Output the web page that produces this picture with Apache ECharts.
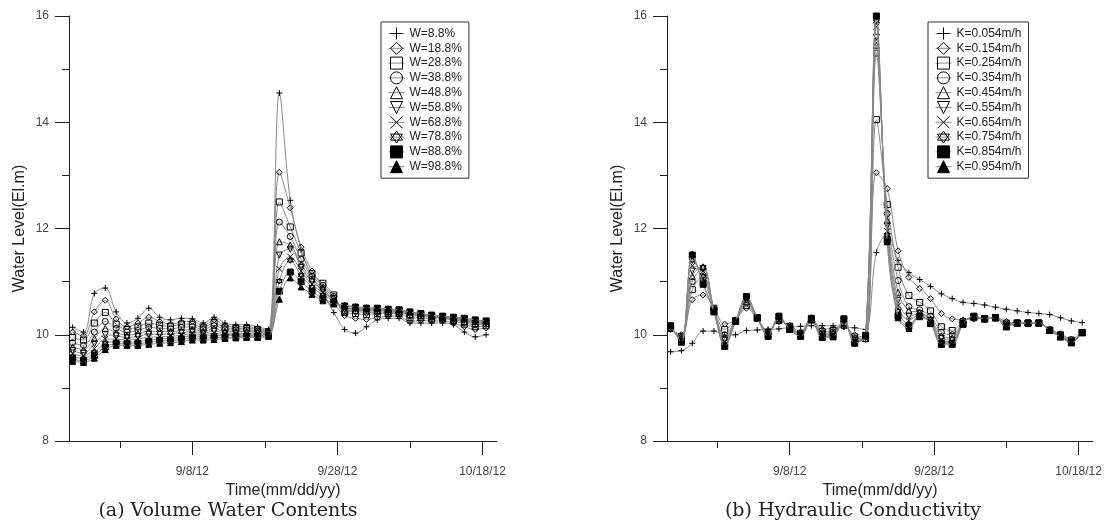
<!DOCTYPE html>
<html><head><meta charset="utf-8">
<script src="https://cdn.jsdelivr.net/npm/echarts@6/dist/echarts.min.js"></script>
<style>html,body{margin:0;padding:0;background:#fff}#c{width:1107px;height:527px}</style>
</head><body><div id="c"></div>
<script>
// x = days after 2012-08-29
const days = [-6.5,-5,-3.5,-2,-0.5,1,2.5,4,5.5,7,8.5,10,11.5,13,14.5,16,17.5,19,20.5,22,23.5,25,26.5,28,29.5,31,32.5,34,35.5,37,38.5,40,41.5,43,44.5,46,47.5,49,50.5];
const tickDaysAll = [0,10,20,30,40,50];
const tickDaysMajor = [10,30,50];
const tickLabels = ['9/8/12','9/28/12','10/18/12'];

const wNames = ['W=8.8%','W=18.8%','W=28.8%','W=38.8%','W=48.8%','W=58.8%','W=68.8%','W=78.8%','W=88.8%','W=98.8%'];
const kNames = ['K=0.054m/h','K=0.154m/h','K=0.254m/h','K=0.354m/h','K=0.454m/h','K=0.554m/h','K=0.654m/h','K=0.754m/h','K=0.854m/h','K=0.954m/h'];

// (a) Volume Water Contents
const w1 = [10.14,10.05,10.78,10.88,10.43,10.22,10.31,10.5,10.33,10.28,10.31,10.3,10.22,10.33,10.22,10.19,10.19,10.15,10.1, 14.55,12.53,11.6,11.1,10.78,10.42,10.1, 10.03,10.15,10.28,10.31,10.31,10.22,10.22,10.22,10.22,10.19,10.05,9.96,10.0];
const w2 = [10.05,9.98,10.43,10.65,10.3,10.15,10.22,10.33,10.25,10.2,10.24,10.25,10.17,10.28,10.17,10.15,10.15,10.12,10.08, 13.06,12.39,11.65,11.2,10.9,10.6,10.36, 10.31,10.29,10.32,10.35,10.35,10.25,10.27,10.26,10.26,10.22,10.15,10.1,10.13];
const w3 = [9.95,9.9,10.22,10.42,10.2,10.1,10.15,10.22,10.18,10.16,10.2,10.2,10.13,10.23,10.13,10.12,10.12,10.1,10.06, 12.5,12.03,11.54,11.15,10.97,10.75,10.42, 10.4,10.38,10.4,10.4,10.4,10.32,10.32,10.3,10.3,10.27,10.2,10.15,10.17];
const w4 = [9.85,9.8,10.05,10.25,10.12,10.05,10.08,10.14,10.12,10.11,10.14,10.15,10.1,10.17,10.1,10.09,10.09,10.07,10.05, 12.12,11.85,11.42,11.1,10.93,10.72,10.44, 10.44,10.42,10.43,10.42,10.42,10.36,10.35,10.33,10.32,10.29,10.23,10.19,10.2];
const w5 = [9.77,9.72,9.93,10.12,10.04,9.99,10.02,10.07,10.06,10.06,10.08,10.1,10.06,10.12,10.06,10.06,10.06,10.05,10.03, 11.75,11.69,11.33,11.05,10.88,10.7,10.46, 10.46,10.45,10.45,10.44,10.43,10.38,10.36,10.35,10.33,10.3,10.25,10.21,10.21];
const w6 = [9.7,9.65,9.83,10.0,9.98,9.95,9.97,10.01,10.01,10.02,10.04,10.06,10.03,10.07,10.03,10.03,10.03,10.03,10.02, 11.5,11.61,11.27,11.0,10.84,10.68,10.48, 10.48,10.46,10.46,10.45,10.44,10.4,10.37,10.35,10.34,10.31,10.27,10.23,10.22];
const w7 = [9.64,9.6,9.74,9.92,9.92,9.9,9.92,9.95,9.96,9.97,9.99,10.02,10.0,10.03,10.0,10.01,10.01,10.01,10.0, 11.24,11.47,11.2,10.95,10.8,10.66,10.5, 10.49,10.47,10.47,10.46,10.45,10.41,10.38,10.36,10.34,10.32,10.28,10.24,10.23];
const w8 = [9.59,9.55,9.67,9.84,9.87,9.86,9.87,9.9,9.92,9.93,9.95,9.98,9.97,9.99,9.98,9.99,9.99,9.99,9.99, 11.01,11.4,11.12,10.9,10.75,10.64,10.52, 10.5,10.48,10.48,10.47,10.46,10.42,10.39,10.36,10.35,10.32,10.29,10.26,10.24];
const w9 = [9.54,9.51,9.61,9.77,9.83,9.83,9.83,9.86,9.88,9.89,9.91,9.94,9.93,9.95,9.95,9.96,9.97,9.97,9.98, 10.82,11.18,11.0,10.82,10.68,10.6,10.54, 10.52,10.5,10.5,10.48,10.47,10.43,10.4,10.37,10.35,10.33,10.31,10.28,10.26];
const w10 = [9.5,9.48,9.56,9.72,9.8,9.8,9.8,9.82,9.84,9.85,9.87,9.9,9.9,9.91,9.93,9.94,9.95,9.95,9.97, 10.67,11.07,10.9,10.76,10.64,10.58,10.56, 10.53,10.51,10.5,10.49,10.47,10.43,10.4,10.37,10.35,10.33,10.31,10.28,10.26];

// (b) Hydraulic Conductivity
const k1 = [9.68,9.7,9.84,10.07,10.07,9.99,10.0,10.08,10.09,10.1,10.11,10.14,10.16,10.17,10.17,10.17,10.15,10.13,10.1, 11.55,11.9,11.4,11.17,11.04,10.91,10.77,10.68,10.61,10.59,10.56,10.52,10.48,10.45,10.42,10.4,10.38,10.32,10.26,10.23];
const k2 = [10.1,10.0,10.66,10.75,10.5,10.2,10.28,10.5,10.3,10.08,10.25,10.18,10.05,10.32,10.1,10.12,10.15,10.0,9.95, 13.05,12.75,11.58,11.08,10.87,10.68,10.4,10.3,10.28,10.3,10.3,10.32,10.25,10.22,10.22,10.22,10.1,10.02,9.92,10.05];
const k3 = [10.12,9.97,10.85,11.1,10.5,10.1,10.27,10.55,10.31,10.05,10.27,10.16,10.03,10.31,10.06,10.08,10.18,9.96,9.93, 14.05,12.45,11.27,10.74,10.61,10.45,10.15,10.08,10.25,10.32,10.3,10.32,10.22,10.22,10.22,10.22,10.09,10.0,9.9,10.04];
const k4 = [10.13,9.95,11.0,11.25,10.48,10.0,10.27,10.6,10.31,10.03,10.29,10.14,10.02,10.3,10.03,10.05,10.2,9.93,9.92, 15.3,12.28,11.02,10.53,10.47,10.35,10.05,10.0,10.23,10.33,10.3,10.32,10.2,10.22,10.22,10.22,10.09,9.99,9.88,10.04];
const k5 = [10.14,9.93,11.1,11.28,10.47,9.95,10.26,10.63,10.32,10.02,10.3,10.13,10.01,10.3,10.01,10.03,10.23,9.91,9.93, 15.45,12.15,10.8,10.46,10.42,10.3,9.98,9.94,10.22,10.34,10.3,10.32,10.18,10.22,10.22,10.22,10.08,9.98,9.87,10.04];
const k6 = [10.15,9.92,11.2,11.25,10.46,9.9,10.26,10.66,10.32,10.01,10.31,10.12,10.0,10.29,10.0,10.01,10.25,9.89,9.95, 15.6,12.05,10.65,10.35,10.4,10.27,9.93,9.9,10.21,10.34,10.3,10.32,10.17,10.22,10.22,10.22,10.08,9.97,9.86,10.04];
const k7 = [10.16,9.9,11.3,11.2,10.45,9.86,10.25,10.68,10.32,10.0,10.32,10.11,9.99,10.29,9.98,9.99,10.27,9.87,9.96, 15.8,11.95,10.55,10.27,10.38,10.25,9.89,9.87,10.21,10.35,10.3,10.32,10.16,10.22,10.22,10.22,10.08,9.97,9.86,10.04];
const k8 = [10.16,9.89,11.4,11.1,10.45,9.82,10.25,10.7,10.32,9.99,10.33,10.1,9.98,10.28,9.97,9.98,10.28,9.86,9.97, 15.9,11.88,10.45,10.2,10.36,10.23,9.86,9.85,10.2,10.35,10.3,10.32,10.16,10.22,10.22,10.22,10.08,9.96,9.85,10.04];
const k9 = [10.17,9.87,11.5,10.97,10.44,9.79,10.25,10.72,10.32,9.98,10.35,10.1,9.98,10.28,9.96,9.97,10.3,9.85,9.99, 16.0,11.78,10.35,10.16,10.35,10.22,9.83,9.83,10.2,10.35,10.3,10.32,10.15,10.22,10.22,10.22,10.08,9.96,9.85,10.04];
const k10 = [10.17,9.86,11.52,10.95,10.43,9.78,10.25,10.73,10.32,9.97,10.35,10.1,9.97,10.28,9.95,9.96,10.3,9.84,9.99, 16.0,11.75,10.32,10.12,10.34,10.21,9.82,9.82,10.2,10.35,10.3,10.32,10.15,10.22,10.22,10.22,10.08,9.96,9.85,10.04];

const wData = [w1,w2,w3,w4,w5,w6,w7,w8,w9,w10];
const kData = [k1,k2,k3,k4,k5,k6,k7,k8,k9,k10];

const SYM = [
  {symbol:'path://M0,-10L0,10M-10,0L10,0', fill:'transparent'},
  {symbol:'diamond', fill:'transparent'},
  {symbol:'rect', fill:'transparent'},
  {symbol:'circle', fill:'transparent'},
  {symbol:'triangle', fill:'transparent'},
  {symbol:'triangle', fill:'transparent', rotate:180},
  {symbol:'path://M-10,-10L10,10M-10,10L10,-10', fill:'transparent'},
  {symbol:'path://M0,-10L8.66,5L-8.66,5ZM0,10L8.66,-5L-8.66,-5Z', fill:'transparent'},
  {symbol:'rect', fill:'#000'},
  {symbol:'triangle', fill:'#000'}
];

function mkSeries(name, vals, k, ax) {
  return {
    name, type:'line', xAxisIndex:ax*2, yAxisIndex:ax*2,
    data: days.map((d,i)=>[d, vals[i]]),
    smooth:0.35, showAllSymbol:true,
    symbol:SYM[k].symbol, symbolRotate:SYM[k].rotate||0, symbolSize:6,
    lineStyle:{color:'#888', width:1},
    itemStyle:{color:SYM[k].fill, borderColor:'#000', borderWidth:1},
    emphasis:{disabled:true}, z: 2 + k
  };
}

const series = [];
wData.forEach((v,k)=>series.push(mkSeries(wNames[k], v, k, 0)));
kData.forEach((v,k)=>series.push(mkSeries(kNames[k], v, k, 1)));

function xAxes(g) {
  return [
    {gridIndex:g, type:'value', min:-7, max:52, position:'bottom',
     axisLine:{show:true, onZero:false, lineStyle:{color:'#222', width:1}},
     axisTick:{show:true, customValues:tickDaysAll, length:7, lineStyle:{color:'#222'}},
     axisLabel:{show:false}, splitLine:{show:false}},
    {gridIndex:g, type:'value', min:-7, max:52, position:'bottom',
     axisLine:{show:false, onZero:false},
     axisTick:{show:true, customValues:tickDaysMajor, length:14, lineStyle:{color:'#222'}},
     axisLabel:{customValues:tickDaysMajor, formatter:v=>tickLabels[tickDaysMajor.indexOf(v)], margin:25, fontSize:12, color:'#444'},
     splitLine:{show:false},
     name:'Time(mm/dd/yy)', nameLocation:'middle', nameGap:34, nameTextStyle:{fontSize:16, color:'#222'}}
  ];
}
function yAxes(g) {
  return [
    {gridIndex:g, type:'value', min:8, max:16, interval:1, position:'left',
     axisLine:{show:true, onZero:false, lineStyle:{color:'#222', width:1}},
     axisTick:{show:true, length:7, lineStyle:{color:'#222'}},
     axisLabel:{show:false}, splitLine:{show:false}},
    {gridIndex:g, type:'value', min:8, max:16, interval:2, position:'left',
     axisLine:{show:false, onZero:false},
     axisTick:{show:true, length:14, lineStyle:{color:'#222'}},
     axisLabel:{margin:20, fontSize:12, color:'#444'}, splitLine:{show:false},
     name:'Water Level(El.m)', nameLocation:'middle', nameGap:41, nameTextStyle:{fontSize:16, color:'#222'}}
  ];
}

function legend(names, left) {
  return {data:names, orient:'vertical', left, top:22, padding:[5,7,5,7],
    itemWidth:16, itemHeight:15, itemGap:1.8, borderColor:'#333', borderWidth:1,
    itemStyle:{borderWidth:1}, lineStyle:{width:1},
    selectedMode:false, textStyle:{fontSize:12, color:'#222'}};
}

const chart = echarts.init(document.getElementById('c'), null, {renderer:'canvas'});
chart.setOption({
  animation:false,
  backgroundColor:'#fff',
  textStyle:{fontFamily:'"Liberation Sans", Arial, sans-serif'},
  grid:[{left:69, top:16, width:428, height:425}, {left:667, top:16, width:426, height:425}],
  xAxis:[...xAxes(0), ...xAxes(1)],
  yAxis:[...yAxes(0), ...yAxes(1)],
  legend:[legend(wNames, 381), legend(kNames, 928)],
  series,
  graphic:[
    {type:'text', style:{text:'(a) Volume Water Contents', x:228, y:511, textAlign:'center', textVerticalAlign:'middle', font:'19px "DejaVu Serif"', fill:'#222'}},
    {type:'text', style:{text:'(b) Hydraulic Conductivity', x:853, y:511, textAlign:'center', textVerticalAlign:'middle', font:'19px "DejaVu Serif"', fill:'#222'}}
  ]
});
</script></body></html>
